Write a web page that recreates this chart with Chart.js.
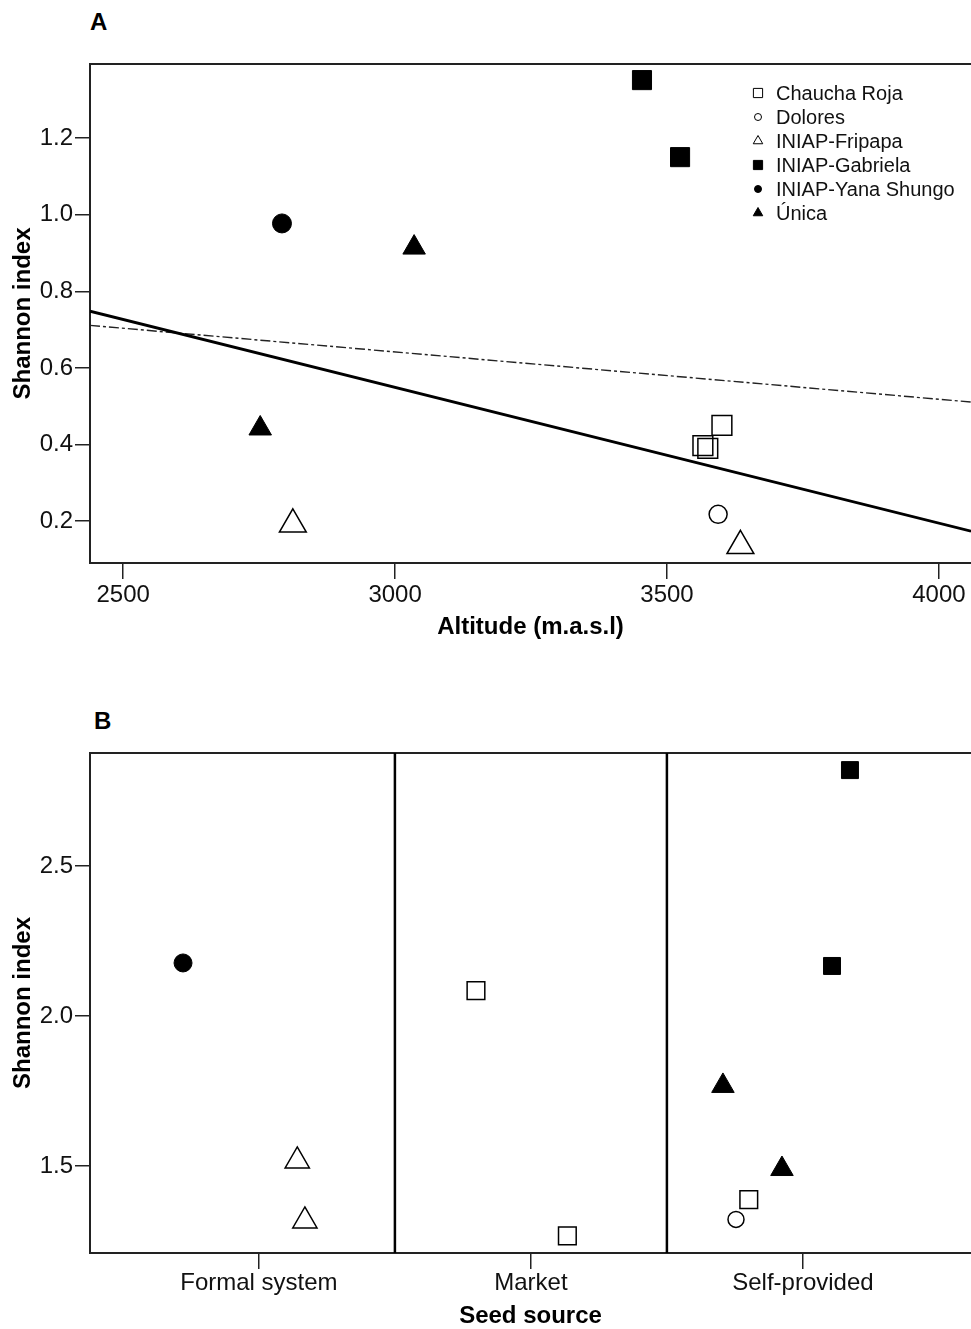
<!DOCTYPE html>
<html>
<head>
<meta charset="utf-8">
<script src="https://cdn.jsdelivr.net/npm/chart.js@4.4.1/dist/chart.umd.min.js"></script>
<style>
  html, body { margin: 0; padding: 0; background: #fff; }
  body { width: 971px; height: 1329px; position: relative; overflow: hidden; font-family: Arial, "Liberation Sans", sans-serif; }
  canvas { position: absolute; left: 0; }
  #chartA { top: 0; }
  #chartB { top: 660px; }
  .panel { position: absolute; font-weight: bold; font-size: 24px; line-height: 24px; color: #000; }
</style>
</head>
<body>
<div class="panel" style="left:90px;top:10px">A</div>
<div class="panel" style="left:94px;top:709px">B</div>
<canvas id="chartA" width="971" height="660"></canvas>
<canvas id="chartB" width="971" height="669"></canvas>
<script>
const FONT = 'Arial, "Liberation Sans", sans-serif';

const varieties = ['Chaucha Roja', 'Dolores', 'INIAP-Fripapa', 'INIAP-Gabriela', 'INIAP-Yana Shungo', 'Única'];

// Panel A: altitude (m.a.s.l) vs Shannon index
const chauchaAlt  = [3601, 3566, 3575];
const chauchaShA  = [0.450, 0.397, 0.390];
const doloresAlt  = [3594];
const doloresShA  = [0.218];
const fripapaAlt  = [2812, 3635];
const fripapaShA  = [0.192, 0.136];
const gabrielaAlt = [3454, 3524];
const gabrielaShA = [1.351, 1.150];
const yanaAlt     = [2792];
const yanaShA     = [0.977];
const unicaAlt    = [3035, 2752];
const unicaShA    = [0.914, 0.442];

// fitted lines (ends of the plotted range)
const fitAlt    = [2439, 4059];
const fitSolid  = [0.748, 0.174];
const fitDashed = [0.711, 0.511];

const altTicks = [2500, 3000, 3500, 4000];
const shTicksA = [0.2, 0.4, 0.6, 0.8, 1.0, 1.2];

// Panel B: seed source vs Shannon index (x = jittered category position)
const seedSources  = ['Formal system', 'Market', 'Self-provided'];
const chauchaSrc   = [1.798, 2.134, 2.801];
const chauchaShB   = [2.085, 1.267, 1.388];
const doloresSrc   = [2.754];
const doloresShB   = [1.322];
const fripapaSrc   = [1.141, 1.169];
const fripapaShB   = [1.517, 1.317];
const gabrielaSrc  = [3.173, 3.107];
const gabrielaShB  = [2.820, 2.167];
const yanaSrc      = [0.721];
const yanaShB      = [2.177];
const unicaSrc     = [2.706, 2.923];
const unicaShB     = [1.767, 1.490];

const shTicksB  = [1.5, 2.0, 2.5];
const dividersB = [1.5, 2.5];

const pts = (xs, ys) => xs.map((x, i) => ({ x, y: ys[i] }));

// marker look per variety: [style, filled]
const MARK = [
  ['rect', false], ['circle', false], ['triangle', false],
  ['rect', true], ['circle', true], ['triangle', true],
];

function pointSet(i, xs, ys, radius) {
  const [style, filled] = MARK[i];
  return {
    label: varieties[i],
    data: pts(xs, ys),
    inLegend: true,
    pointStyle: style,
    pointRadius: radius,
    pointBackgroundColor: filled ? '#000' : 'rgba(0,0,0,0)',
    pointBorderColor: '#000',
    pointBorderWidth: filled ? 1 : 1.5,
  };
}

const frame = {
  id: 'frame',
  beforeDatasetsDraw(chart, args, opts) {
    const { ctx, chartArea: a, scales } = chart;
    ctx.save();
    ctx.strokeStyle = '#222';
    ctx.lineWidth = 2;
    ctx.beginPath();
    ctx.moveTo(a.right, a.top);
    ctx.lineTo(a.left, a.top);
    ctx.lineTo(a.left, a.bottom);
    ctx.lineTo(a.right, a.bottom);
    ctx.stroke();
    (opts.dividers || []).forEach(v => {
      const x = scales.x.getPixelForValue(v);
      ctx.strokeStyle = '#000';
      ctx.lineWidth = 2.5;
      ctx.beginPath();
      ctx.moveTo(x, a.top);
      ctx.lineTo(x, a.bottom);
      ctx.stroke();
    });
    ctx.restore();
  }
};

const LEGEND_R = { rect: 6.5, circle: 3.5, triangle: 5.5 };

const innerLegend = {
  id: 'innerLegend',
  afterDatasetsDraw(chart, args, opts) {
    const ctx = chart.ctx;
    let y = opts.y;
    ctx.save();
    ctx.font = '20px ' + FONT;
    ctx.textBaseline = 'middle';
    chart.data.datasets.forEach(ds => {
      if (!ds.inLegend) return;
      ctx.fillStyle = ds.pointBackgroundColor;
      ctx.strokeStyle = '#000';
      ctx.lineWidth = 1;
      Chart.helpers.drawPoint(ctx, { pointStyle: ds.pointStyle, radius: LEGEND_R[ds.pointStyle], rotation: 0, borderWidth: 1 }, opts.x, y);
      ctx.fillStyle = '#111';
      ctx.fillText(ds.label, opts.textX, y + 1);
      y += opts.dy;
    });
    ctx.restore();
  }
};

function axisY(min, max, ticks, title) {
  return {
    type: 'linear', position: 'left', min, max,
    afterBuildTicks: s => { s.ticks = ticks.map(v => ({ value: v })); },
    afterFit: s => { s.width = 90; },
    border: { display: false },
    grid: { drawOnChartArea: false, drawTicks: true, tickLength: 15, color: '#222', lineWidth: 1.5 },
    ticks: { callback: v => v.toFixed(1), color: '#111', padding: 2, font: { family: FONT, size: 24, lineHeight: 1 } },
    title: { display: true, text: title, color: '#000', padding: { top: 11, bottom: 0 }, font: { family: FONT, size: 24, weight: 'bold', lineHeight: 1 } },
  };
}

function axisX(min, max, ticks, label, height, padTick, padTitle, title) {
  return {
    type: 'linear', position: 'bottom', min, max,
    afterBuildTicks: s => { s.ticks = ticks.map(v => ({ value: v })); },
    afterFit: s => { s.height = height; },
    border: { display: false },
    grid: { drawOnChartArea: false, drawTicks: true, tickLength: 16, color: '#222', lineWidth: 1.5 },
    ticks: { callback: label, autoSkip: false, maxRotation: 0, color: '#111', padding: padTick, font: { family: FONT, size: 24, lineHeight: 1 } },
    title: { display: true, text: title, color: '#000', padding: { top: 0, bottom: padTitle }, font: { family: FONT, size: 24, weight: 'bold', lineHeight: 1 } },
  };
}

new Chart(document.getElementById('chartA'), {
  type: 'scatter',
  data: {
    datasets: [
      pointSet(0, chauchaAlt, chauchaShA, 14),
      pointSet(1, doloresAlt, doloresShA, 9),
      pointSet(2, fripapaAlt, fripapaShA, 15.5),
      pointSet(3, gabrielaAlt, gabrielaShA, 13.5),
      pointSet(4, yanaAlt, yanaShA, 9.5),
      pointSet(5, unicaAlt, unicaShA, 13),
      { type: 'line', data: pts(fitAlt, fitSolid), borderColor: '#000', borderWidth: 2.8, pointRadius: 0, fill: false },
      { type: 'line', data: pts(fitAlt, fitDashed), borderColor: '#222', borderWidth: 1.4, borderDash: [10, 3, 3, 3], pointRadius: 0, fill: false },
    ],
  },
  options: {
    responsive: false,
    animation: false,
    events: [],
    layout: { autoPadding: false, padding: { top: 64, left: 0, right: 0, bottom: 0 } },
    scales: {
      x: axisX(2439, 4059, altTicks, v => String(v), 97, 4, 21, 'Altitude (m.a.s.l)'),
      y: axisY(0.091, 1.393, shTicksA, 'Shannon index'),
    },
    plugins: {
      legend: { display: false },
      tooltip: { enabled: false },
      frame: {},
      innerLegend: { x: 758, textX: 776, y: 93, dy: 24 },
    },
  },
  plugins: [frame, innerLegend],
});

new Chart(document.getElementById('chartB'), {
  type: 'scatter',
  data: {
    datasets: [
      pointSet(0, chauchaSrc, chauchaShB, 12.5),
      pointSet(1, doloresSrc, doloresShB, 8),
      pointSet(2, fripapaSrc, fripapaShB, 14),
      pointSet(3, gabrielaSrc, gabrielaShB, 12),
      pointSet(4, yanaSrc, yanaShB, 9),
      pointSet(5, unicaSrc, unicaShB, 13),
    ],
  },
  options: {
    responsive: false,
    animation: false,
    events: [],
    layout: { autoPadding: false, padding: { top: 93, left: 0, right: 0, bottom: 0 } },
    scales: {
      x: axisX(0.379, 3.618, [1, 2, 3], v => seedSources[Math.round(v) - 1], 76, 2, 1, 'Seed source'),
      y: axisY(1.21, 2.877, shTicksB, 'Shannon index'),
    },
    plugins: {
      legend: { display: false },
      tooltip: { enabled: false },
      frame: { dividers: dividersB },
      innerLegend: { x: 121, textX: 138, y: 788, dy: 23.8 },
    },
  },
  plugins: [frame, innerLegend],
});
</script>
</body>
</html>
